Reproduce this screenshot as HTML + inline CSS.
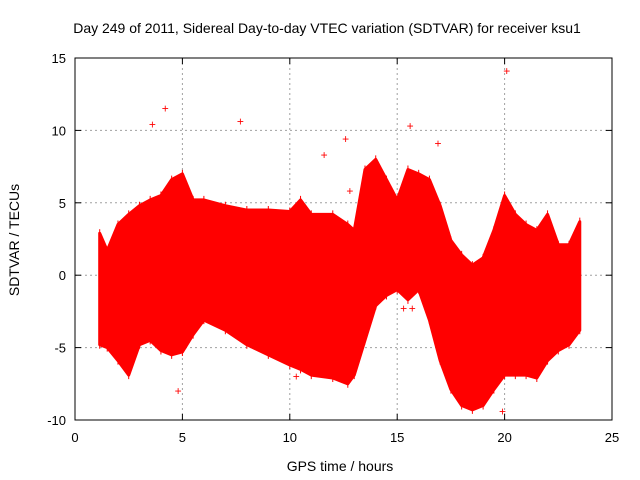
<!DOCTYPE html>
<html><head><meta charset="utf-8"><style>
body{margin:0;background:#fff}
svg{display:block;font-family:"Liberation Sans",sans-serif}
</style></head><body>
<svg id="c" width="640" height="480"></svg>
<script>
const times=[1.15,1.5,2,2.5,3,3.5,4,4.5,5,5.5,6,7,8,9,10,10.5,11,12,12.7,13,13.5,14,14.5,15,15.5,16,16.5,17,17.5,18,18.5,19,19.5,20,20.5,21,21.5,22,22.5,23,23.5];
const upper=[2.9,1.7,3.5,4.2,4.8,5.2,5.5,6.6,7,5.2,5.2,4.8,4.5,4.5,4.4,5.2,4.2,4.2,3.5,3.1,7.3,8,6.6,5.2,7.3,7,6.6,4.8,2.4,1.4,0.7,1.2,3.1,5.5,4.2,3.5,3.1,4.2,2.1,2.1,3.7];
const lower=[-4.8,-5,-5.9,-6.9,-4.8,-4.5,-5.2,-5.5,-5.3,-4.1,-3.1,-3.8,-4.8,-5.5,-6.2,-6.5,-6.9,-7.1,-7.5,-6.9,-4.5,-2.1,-1.4,-1,-1.7,-1,-3.1,-5.9,-7.9,-9,-9.3,-9,-7.9,-6.9,-6.9,-6.9,-7.1,-5.9,-5.2,-4.8,-3.8];
const outT=[3.6,4.2,7.7,11.6,12.6,12.8,16.9,20.1,15.6,4.8,15.3,15.7,4.9,10.3,19.9];
const outV=[10.4,11.5,10.6,8.3,9.4,5.8,9.1,14.1,10.3,-8,-2.3,-2.3,6.5,-7,-9.4];
const xTicks=[0,5,10,15,20,25];
const yTicks=[-10,-5,0,5,10,15];
const L=75,R=612,T=58,B=420;
const X=v=>L+(v-0)/25*(R-L), Y=v=>B-(v+10)/25*(B-T);
const s=document.getElementById('c'),NS='http://www.w3.org/2000/svg';
function el(t,a,p){const e=document.createElementNS(NS,t);for(const k in a)e.setAttribute(k,a[k]);(p||s).appendChild(e);return e;}
let e;
xTicks.forEach(v=>{
 if(v>0&&v<25){e=el('line',{x1:X(v),x2:X(v),y1:T,y2:B,stroke:'#a0a0a0','stroke-dasharray':'2,3'});
 }
 e=el('text',{x:X(v),y:B+22,'text-anchor':'middle','font-size':13});e.textContent=v;
 
});
yTicks.forEach(v=>{
 if(v>-10&&v<15){e=el('line',{x1:L,x2:R,y1:Y(v),y2:Y(v),stroke:'#a0a0a0','stroke-dasharray':'2,3'});
 }
 e=el('text',{x:L-9,y:Y(v)+5,'text-anchor':'end','font-size':13});e.textContent=v;
 
});
let pts=times.map((t,i)=>X(t)+','+Y(upper[i]));
for(let i=times.length-1;i>=0;i--)pts.push(X(times[i])+','+Y(lower[i]));
e=el('polygon',{points:pts.join(' '),fill:'#ff0000',stroke:'#ff0000','stroke-width':3,'stroke-linejoin':'round'});

times.forEach((t,i)=>{
 e=el('line',{x1:X(t),x2:X(t),y1:Y(upper[i])-4,y2:Y(lower[i])+4,stroke:'#ff0000','stroke-width':1});
 
});
outT.forEach((t,i)=>{
 e=el('text',{x:X(t),y:Y(outV[i])+4,'text-anchor':'middle','font-size':12,fill:'#ff0000'});e.textContent='+';
 
});
e=el('rect',{x:L,y:T,width:R-L,height:B-T,fill:'none',stroke:'#000'});

xTicks.forEach(v=>{el('line',{x1:X(v),x2:X(v),y1:B,y2:B-6,stroke:'#000'});el('line',{x1:X(v),x2:X(v),y1:T,y2:T+6,stroke:'#000'});});
yTicks.forEach(v=>{el('line',{x1:L,x2:L+6,y1:Y(v),y2:Y(v),stroke:'#000'});el('line',{x1:R,x2:R-6,y1:Y(v),y2:Y(v),stroke:'#000'});});
e=el('text',{x:327,y:33,'text-anchor':'middle','font-size':14});e.textContent='Day 249 of 2011, Sidereal Day-to-day VTEC variation (SDTVAR) for receiver ksu1';

e=el('text',{x:340,y:471,'text-anchor':'middle','font-size':14});e.textContent='GPS time / hours';

e=el('text',{x:19,y:240,'text-anchor':'middle','font-size':14,transform:'rotate(-90 19 240)'});e.textContent='SDTVAR / TECUs';

</script>
</body></html>
